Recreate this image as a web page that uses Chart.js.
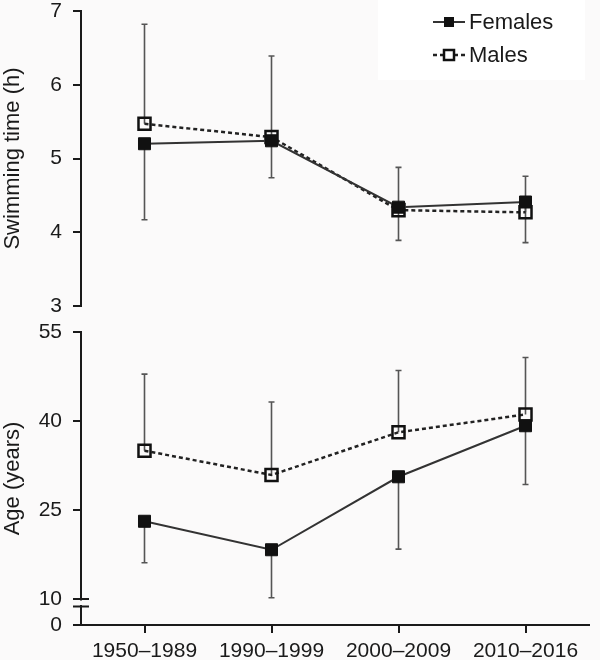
<!DOCTYPE html>
<html><head><meta charset="utf-8">
<script src="https://cdn.jsdelivr.net/npm/chart.js@4.4.1/dist/chart.umd.min.js"></script>
<style>html,body{margin:0;padding:0;background:#fbfafa;} canvas{display:block;}</style>
</head><body>
<canvas id="c" width="600" height="660"></canvas>
<script>
const categories = ['1950–1989', '1990–1999', '2000–2009', '2010–2016'];
const seriesNames = ['Females', 'Males'];
const axisTitles = ['Swimming time (h)', 'Age (years)'];

const timeFemales      = [5.20, 5.24, 4.34, 4.41];
const timeFemalesLower = [4.17, 4.74, 3.89, 3.86];
const timeMales        = [5.47, 5.29, 4.30, 4.27];
const timeMalesUpper   = [6.82, 6.39, 4.88, 4.76];

const ageFemales      = [23.1, 18.3, 30.6, 39.2];
const ageFemalesLower = [16.1, 10.2, 18.4, 29.3];
const ageMales        = [35.0, 30.9, 38.1, 41.1];
const ageMalesUpper   = [47.9, 43.2, 48.5, 50.7];

const timeTicks = [3, 4, 5, 6, 7];
const ageTicks = [10, 25, 40, 55];
const ageZeroTicks = [0];

const FONT = "'Liberation Sans', Arial, Helvetica, sans-serif";
const INK = '#1a1a1a';
const BG = '#fbfafa';

function yScale(min, max, tickVals, weight, show) {
  return {
    type: 'linear', position: 'left', stack: 'v', stackWeight: weight, min: min, max: max,
    afterBuildTicks: s => { s.ticks = tickVals.map(v => ({ value: v })); },
    afterFit: s => { s.width = 81; s.paddingTop = 0; s.paddingBottom = 0; },
    grid: { display: show, drawOnChartArea: false, color: INK, lineWidth: 2, tickLength: 8 },
    border: { display: show, color: INK, width: 2 },
    ticks: { display: show, font: { family: FONT, size: 21 }, color: INK, padding: 11 }
  };
}

const femaleStyle = {
  borderColor: '#333', borderWidth: 2, pointStyle: 'rect', pointRadius: 8.5,
  pointBackgroundColor: '#111', pointBorderColor: '#111', pointBorderWidth: 1, tension: 0, fill: false
};
const maleStyle = {
  borderColor: '#222', borderWidth: 2.5, borderDash: [4, 3], pointStyle: 'rect', pointRadius: 8.5,
  pointBackgroundColor: 'rgba(0,0,0,0)', pointBorderColor: '#111', pointBorderWidth: 2.5, tension: 0, fill: false
};

const datasets = [
  Object.assign({ label: seriesNames[0], data: timeFemales, yAxisID: 'yTop', errorEnds: timeFemalesLower }, femaleStyle),
  Object.assign({ label: seriesNames[1], data: timeMales, yAxisID: 'yTop', errorEnds: timeMalesUpper }, maleStyle),
  Object.assign({ label: seriesNames[0], data: ageFemales, yAxisID: 'yAge', errorEnds: ageFemalesLower }, femaleStyle),
  Object.assign({ label: seriesNames[1], data: ageMales, yAxisID: 'yAge', errorEnds: ageMalesUpper }, maleStyle)
];

const bgPlugin = {
  id: 'bg',
  beforeDraw(chart) {
    const ctx = chart.ctx;
    ctx.save();
    ctx.fillStyle = BG;
    ctx.fillRect(0, 0, chart.width, chart.height);
    ctx.fillStyle = '#ffffff';
    ctx.fillRect(378, 0, 207, 80);
    ctx.restore();
  }
};

const errorBarPlugin = {
  id: 'errorBars',
  beforeDatasetsDraw(chart) {
    const ctx = chart.ctx;
    ctx.save();
    ctx.strokeStyle = '#555';
    ctx.lineWidth = 1.6;
    chart.data.datasets.forEach((ds, i) => {
      const meta = chart.getDatasetMeta(i);
      const scale = chart.scales[ds.yAxisID];
      meta.data.forEach((pt, j) => {
        const yEnd = scale.getPixelForValue(ds.errorEnds[j]);
        ctx.beginPath();
        ctx.moveTo(pt.x, pt.y);
        ctx.lineTo(pt.x, yEnd);
        ctx.moveTo(pt.x - 3, yEnd);
        ctx.lineTo(pt.x + 3, yEnd);
        ctx.stroke();
      });
    });
    ctx.restore();
  }
};

const decorPlugin = {
  id: 'decor',
  afterDraw(chart) {
    const ctx = chart.ctx;
    const sTop = chart.scales.yTop, sAge = chart.scales.yAge, sZero = chart.scales.yZero;
    ctx.save();
    ctx.fillStyle = INK;
    ctx.font = '22px ' + FONT;
    ctx.textAlign = 'center';
    ctx.textBaseline = 'middle';
    [[axisTitles[0], (sTop.top + sTop.bottom) / 2], [axisTitles[1], (sAge.top + sZero.bottom) / 2]].forEach(([t, cy]) => {
      ctx.save();
      ctx.translate(13, cy);
      ctx.rotate(-Math.PI / 2);
      ctx.fillText(t, 0, 0);
      ctx.restore();
    });
    const ax = sAge.right;
    const yb = sAge.bottom;
    ctx.fillStyle = BG;
    ctx.fillRect(ax - 3, yb + 1.5, 6, 4.5);
    ctx.strokeStyle = INK;
    ctx.lineWidth = 2;
    ctx.beginPath();
    ctx.moveTo(ax - 8, yb); ctx.lineTo(ax + 8, yb);
    ctx.moveTo(ax - 8, yb + 7.5); ctx.lineTo(ax + 8, yb + 7.5);
    ctx.stroke();
    const items = [[femaleStyle, 22], [maleStyle, 55]];
    items.forEach(([st, y], k) => {
      ctx.save();
      ctx.strokeStyle = st.borderColor;
      ctx.lineWidth = st.borderWidth;
      ctx.setLineDash(st.borderDash || []);
      ctx.beginPath();
      ctx.moveTo(433, y); ctx.lineTo(465, y);
      ctx.stroke();
      ctx.setLineDash([]);
      const r = 5;
      if (k === 0) {
        ctx.fillStyle = st.pointBackgroundColor;
        ctx.fillRect(449 - r, y - r, 2 * r, 2 * r);
      } else {
        ctx.fillStyle = '#ffffff';
        ctx.fillRect(449 - r, y - r, 2 * r, 2 * r);
        ctx.strokeStyle = st.pointBorderColor;
        ctx.lineWidth = 2.5;
        ctx.strokeRect(449 - r, y - r, 2 * r, 2 * r);
      }
      ctx.fillStyle = INK;
      ctx.font = '22px ' + FONT;
      ctx.textAlign = 'left';
      ctx.textBaseline = 'middle';
      ctx.fillText(seriesNames[k], 469, y + 1);
      ctx.restore();
    });
    ctx.restore();
  }
};

new Chart(document.getElementById('c'), {
  type: 'line',
  data: { labels: categories, datasets: datasets },
  plugins: [bgPlugin, errorBarPlugin, decorPlugin],
  options: {
    responsive: false,
    devicePixelRatio: 1,
    animation: false,
    layout: { padding: { top: 11, right: 5, bottom: 0, left: 0 } },
    plugins: { legend: { display: false }, tooltip: { enabled: false } },
    scales: {
      x: {
        type: 'category', offset: true,
        afterFit: s => { s.height = 35; s.paddingLeft = 0; s.paddingRight = 0; },
        grid: { drawOnChartArea: false, offset: false, color: INK, lineWidth: 2, tickLength: 8 },
        border: { color: INK, width: 2 },
        ticks: { font: { family: FONT, size: 21, lineHeight: 1 }, color: INK, padding: 8, maxRotation: 0, autoSkip: false }
      },
      // stacked scales are laid out bottom-up in definition order
      yZero: yScale(0, 10, ageZeroTicks, 26, true),
      yAge: yScale(10, 55, ageTicks, 267, true),
      yGap: yScale(0, 1, [], 26, false),
      yTop: yScale(3, 7, timeTicks, 295, true)
    }
  }
});
</script>
</body></html>
